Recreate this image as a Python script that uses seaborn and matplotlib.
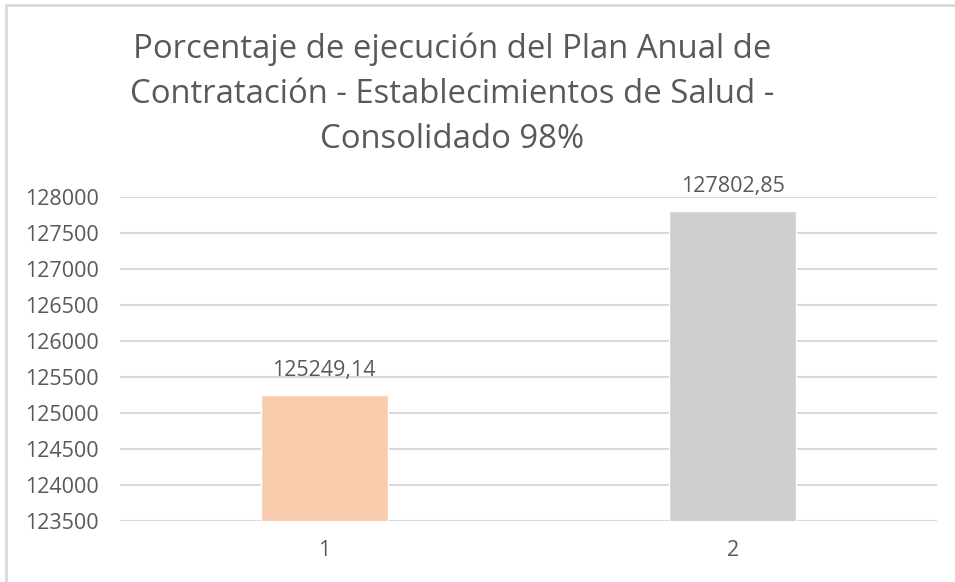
import matplotlib
matplotlib.use("Agg")
import matplotlib.pyplot as plt
import seaborn as sns
import pandas as pd
from matplotlib.patches import Rectangle

categorias = ["1", "2"]
valores = [125249.14, 127802.85]
colores = ["#F8CBAD", "#D0CECE"]
etiquetas = ["125249,14", "127802,85"]
titulo = "Porcentaje de ejecución del Plan Anual de\nContratación - Establecimientos de Salud -\nConsolidado 98%"

sns.set_theme(style="white")
plt.rcParams["font.family"] = ["Open Sans", "DejaVu Sans"]

gris = "#595959"
linea = "#D9D9D9"

fig = plt.figure(figsize=(9.55, 5.82), dpi=100)
ax = fig.add_axes([120 / 955, 1 - 521 / 582, (937 - 120) / 955, (521 - 197) / 582])

df = pd.DataFrame({"cat": categorias, "valor": valores})
sns.barplot(data=df, x="cat", y="valor", hue="cat", palette=colores,
            legend=False, width=0.31, ax=ax, saturation=1)

ax.set_ylim(123500, 128000)
ax.set_yticks(range(123500, 128001, 500))
ax.set_yticklabels([str(v) for v in range(123500, 128001, 500)])
ax.yaxis.grid(True, color=linea, linewidth=1.5)
ax.set_axisbelow(True)
for s in ax.spines.values():
    s.set_visible(False)
ax.set_xlabel("")
ax.set_ylabel("")
ax.tick_params(axis="both", colors=gris, labelsize=15.5, length=0)
ax.tick_params(axis="y", pad=15)
ax.tick_params(axis="x", pad=14)

for i, (v, t) in enumerate(zip(valores, etiquetas)):
    ax.annotate(t, (i, v), xytext=(0, 10), textcoords="offset points",
                ha="center", va="bottom", color=gris, fontsize=15.5)

fig.text(452 / 955, 1 - 94 / 582, titulo, ha="center", va="center",
         fontsize=23.7, color=gris, linespacing=1.47)

# borde del gráfico (recortado a la derecha y abajo)
fig.patches.append(Rectangle((6 / 955, -0.1), 1.2, 1 - 5 / 582 + 0.1,
                             transform=fig.transFigure, fill=False,
                             edgecolor=linea, linewidth=2))

fig.savefig("out.png", dpi=100)
